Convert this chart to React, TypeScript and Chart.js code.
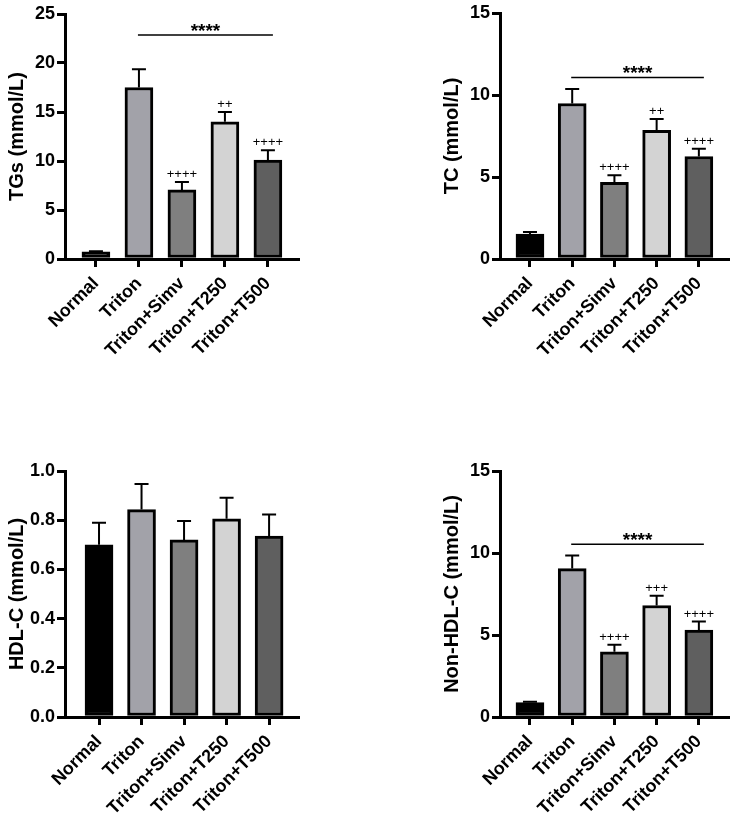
import React, { useEffect, useRef } from 'react';
import { Chart, registerables } from 'chart.js';

Chart.register(...registerables);

const groups = ['Normal', 'Triton', 'Triton+Simv', 'Triton+T250', 'Triton+T500'];
const barColors = ['#000000', '#a2a2a9', '#7f7f7f', '#d3d3d3', '#5f5f5f'];

// mean and SEM
const tgMean = [0.72, 17.5, 7.05, 14.0, 10.1];
const tgSem = [0.08, 1.85, 0.8, 1.0, 1.0];
const tgMarks = ['', '', '++++', '++', '++++'];

const tcMean = [1.52, 9.48, 4.68, 7.85, 6.25];
const tcSem = [0.12, 0.88, 0.42, 0.68, 0.47];
const tcMarks = ['', '', '++++', '++', '++++'];

const hdlMean = [0.70, 0.843, 0.72, 0.806, 0.735];
const hdlSem = [0.09, 0.104, 0.077, 0.085, 0.088];
const hdlMarks = ['', '', '', '', ''];

const nonHdlMean = [0.88, 9.05, 3.98, 6.8, 5.3];
const nonHdlSem = [0.05, 0.8, 0.42, 0.6, 0.52];
const nonHdlMarks = ['', '', '++++', '+++', '++++'];

const FONT = '"Liberation Sans", Arial, sans-serif';

interface PanelProps {
  title: string;
  mean: number[];
  sem: number[];
  marks: string[];
  sigLevel: number | null;
  yMax: number;
  yStep: number;
  decimals: number;
  left: number;
  top: number;
  width: number;
  height: number;
  axisX: number;
  plotTop: number;
  plotBottom: number;
  axisRight: number;
  xMin: number;
  xMax: number;
}

const Panel: React.FC<PanelProps> = (p) => {
  const chartRef = useRef<HTMLCanvasElement>(null);

  useEffect(() => {
    if (!chartRef.current) return;
    const ctx = chartRef.current.getContext('2d');
    if (!ctx) return;

    const errorBars = {
      id: 'errorBars',
      afterDatasetsDraw(chart: any) {
        const c = chart.ctx;
        const x = chart.scales.x;
        const y = chart.scales.y;
        c.save();
        c.strokeStyle = '#000';
        c.fillStyle = '#000';
        c.lineWidth = 2;
        p.mean.forEach((m, i) => {
          const cx = x.getPixelForValue(i);
          const y0 = y.getPixelForValue(m);
          const y1 = y.getPixelForValue(m + p.sem[i]);
          c.beginPath();
          c.moveTo(cx, y0);
          c.lineTo(cx, y1);
          c.moveTo(cx - 7, y1);
          c.lineTo(cx + 7, y1);
          c.stroke();
          if (p.marks[i]) {
            c.font = `13px ${FONT}`;
            c.textAlign = 'center';
            c.textBaseline = 'alphabetic';
            c.fillText(p.marks[i], cx, y1 - 4);
          }
        });
        if (p.sigLevel !== null) {
          const ly = y.getPixelForValue(p.sigLevel);
          const x1 = x.getPixelForValue(1) - 1;
          const x2 = x.getPixelForValue(4) + 5;
          c.lineWidth = 1.5;
          c.beginPath();
          c.moveTo(x1, ly);
          c.lineTo(x2, ly);
          c.stroke();
          c.font = `bold 19px ${FONT}`;
          c.textAlign = 'center';
          c.textBaseline = 'alphabetic';
          c.fillText('****', (x1 + x2) / 2, ly + 2);
        }
        c.restore();
      },
    };

    const chart = new Chart(ctx, {
      type: 'bar',
      data: {
        datasets: [
          {
            data: p.mean.map((v, i) => ({ x: i, y: v })),
            backgroundColor: barColors,
            borderColor: '#000',
            borderWidth: 3,
            borderSkipped: false,
            barThickness: 28,
          },
        ],
      },
      options: {
        responsive: false,
        animation: false,
        layout: {
          padding: {
            left: p.axisX - 65,
            top: p.plotTop,
            right: p.width - p.axisRight,
            bottom: 0,
          },
        },
        plugins: {
          legend: { display: false },
          tooltip: { enabled: false },
        },
        scales: {
          x: {
            type: 'linear',
            offset: false,
            min: p.xMin,
            max: p.xMax,
            afterFit: (s: any) => {
              s.height = p.height - p.plotBottom;
            },
            ticks: {
              stepSize: 1,
              includeBounds: false,
              autoSkip: false,
              maxRotation: 45,
              minRotation: 45,
              padding: 6,
              color: '#000',
              font: { family: FONT, size: 18, weight: 'bold' },
              callback: (v: any) => groups[v] ?? '',
            },
            grid: {
              offset: false,
              drawOnChartArea: false,
              drawTicks: true,
              tickLength: 8,
              lineWidth: 3,
              color: '#000',
            },
            border: { width: 3, color: '#000' },
          },
          y: {
            min: 0,
            max: p.yMax,
            afterFit: (s: any) => {
              s.width = 65;
            },
            ticks: {
              stepSize: p.yStep,
              padding: 2,
              color: '#000',
              font: { family: FONT, size: 18, weight: 'bold' },
              callback: (v: any) => Number(v).toFixed(p.decimals),
            },
            grid: {
              drawOnChartArea: false,
              drawTicks: true,
              tickLength: 8,
              lineWidth: 3,
              color: '#000',
            },
            border: { width: 3, color: '#000' },
            title: {
              display: true,
              text: p.title,
              color: '#000',
              font: { family: FONT, size: 20, weight: 'bold' },
              padding: { top: 5, bottom: 0 },
            },
          },
        },
      },
      plugins: [errorBars],
    } as any);

    return () => {
      chart.destroy();
    };
  }, [p]);

  return (
    <div style={{ position: 'absolute', left: p.left, top: p.top, width: p.width, height: p.height }}>
      <canvas ref={chartRef} width={p.width} height={p.height} style={{ width: p.width, height: p.height }} />
    </div>
  );
};

const App: React.FC = () => {
  return (
    <div style={{ position: 'absolute', left: 0, top: 0, width: 735, height: 823, background: '#fff' }}>
      <Panel
        title="TGs (mmol/L)" mean={tgMean} sem={tgSem} marks={tgMarks} sigLevel={22.85}
        yMax={25} yStep={5} decimals={0}
        left={0} top={0} width={367} height={411}
        axisX={65} plotTop={14} plotBottom={259} axisRight={298} xMin={-0.72} xMax={4.7}
      />
      <Panel
        title="TC (mmol/L)" mean={tcMean} sem={tcSem} marks={tcMarks} sigLevel={11.07}
        yMax={15} yStep={5} decimals={0}
        left={367} top={0} width={368} height={411}
        axisX={133} plotTop={13} plotBottom={259} axisRight={361} xMin={-0.71} xMax={4.69}
      />
      <Panel
        title="HDL-C (mmol/L)" mean={hdlMean} sem={hdlSem} marks={hdlMarks} sigLevel={null}
        yMax={1} yStep={0.2} decimals={1}
        left={0} top={411} width={367} height={412}
        axisX={65} plotTop={60} plotBottom={306} axisRight={298} xMin={-0.8} xMax={4.68}
      />
      <Panel
        title="Non-HDL-C (mmol/L)" mean={nonHdlMean} sem={nonHdlSem} marks={nonHdlMarks} sigLevel={10.53}
        yMax={15} yStep={5} decimals={0}
        left={367} top={411} width={368} height={412}
        axisX={133} plotTop={60} plotBottom={306} axisRight={361} xMin={-0.71} xMax={4.69}
      />
    </div>
  );
};

export default App;
